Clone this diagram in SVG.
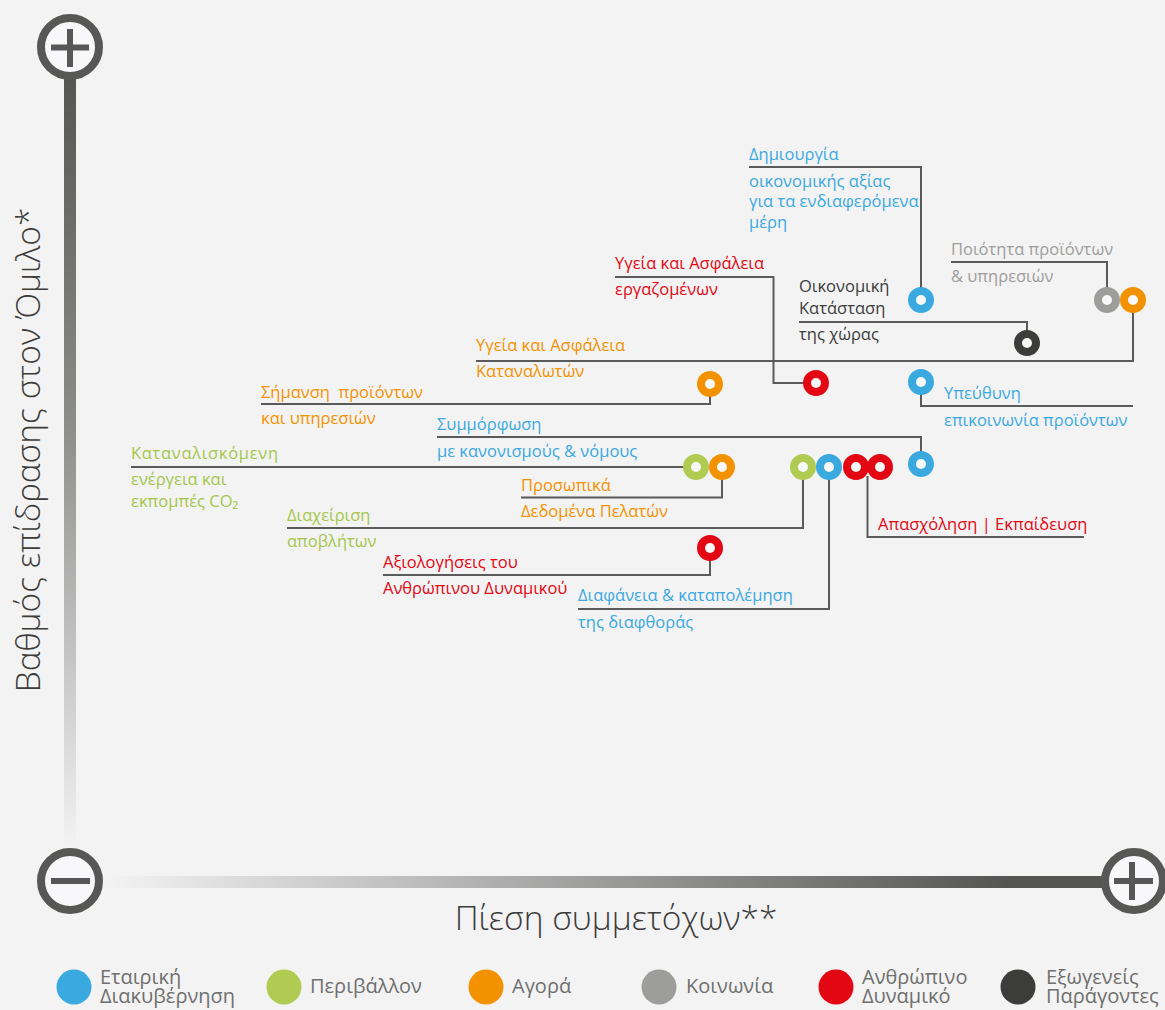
<svg xmlns="http://www.w3.org/2000/svg" width="1165" height="1010" viewBox="0 0 1165 1010">
<defs>
<linearGradient id="gv" x1="0" y1="0" x2="0" y2="1">
<stop offset="0" stop-color="#555554"/>
<stop offset="0.45" stop-color="#8c8c8b"/>
<stop offset="1" stop-color="#f3f3f3"/>
</linearGradient>
<linearGradient id="gh" x1="0" y1="0" x2="1" y2="0">
<stop offset="0" stop-color="#f3f3f3"/>
<stop offset="0.9" stop-color="#555554"/>
<stop offset="1" stop-color="#555554"/>
</linearGradient>
<style>
.t{font-family:"Open Sans","Noto Sans","DejaVu Sans",sans-serif;font-size:16.5px}
.b{fill:#3aa9e0}.g{fill:#a6c64c}.o{fill:#f39200}.r{fill:#e30613}.gr{fill:#9d9d9c}.d{fill:#3c3c3b}
.m{fill:#f8f8f8;stroke-width:8}
.mb{stroke:#3aa9e0}.mg{stroke:#b0cb52}.mo{stroke:#f39200}.mr{stroke:#e30613}.mgr{stroke:#9d9d9c}.md{stroke:#3c3c3b}
.c{fill:none;stroke:#5a5a5a;stroke-width:2}
.ax{fill:#f8f8fa;stroke:#575756;stroke-width:8}
.sg{fill:#575756}
.lg{font-family:"Open Sans","Noto Sans","DejaVu Sans",sans-serif;font-size:20px;fill:#6f6f6e}
.al{font-family:"Open Sans","Noto Sans","DejaVu Sans",sans-serif;font-size:33.5px;font-weight:300;fill:#3c3c3b}
</style>
</defs>
<rect width="1165" height="1010" fill="#f3f3f3"/>

<g id="axes">
<rect x="64" y="76" width="12" height="772" fill="url(#gv)"/>
<rect x="106" y="876" width="1000" height="12" fill="url(#gh)"/>
<circle class="ax" cx="70" cy="47" r="29"/>
<rect class="sg" x="51" y="44.5" width="38" height="6"/>
<rect class="sg" x="67" y="29" width="6" height="38"/>
<circle class="ax" cx="70" cy="881" r="29"/>
<rect class="sg" x="51" y="878" width="39" height="6"/>
<circle class="ax" cx="1134" cy="881" r="29"/>
<rect class="sg" x="1114" y="878" width="39" height="6"/>
<rect class="sg" x="1129" y="862" width="6" height="38"/>
<text class="al" x="616" y="930" text-anchor="middle">Πίεση συμμετόχων**</text>
<text class="al" transform="translate(40,450) rotate(-90)" text-anchor="middle">Βαθμός επίδρασης στον Όμιλο*</text>
</g>

<g id="connectors">
<path class="c" d="M749,167 H921 V300"/>
<path class="c" d="M951,262 H1107 V300"/>
<path class="c" d="M476,361 H1133 V300"/>
<path class="c" d="M799,322 H1027 V343"/>
<path class="c" d="M615,277 H773.5 V383 H816"/>
<path class="c" d="M261,404 H710 V384"/>
<path class="c" d="M921,382 V406 H1133"/>
<path class="c" d="M437,437 H921 V464"/>
<path class="c" d="M131,467 H696"/>
<path class="c" d="M521,497.5 H722 V467"/>
<path class="c" d="M287,528 H803 V467"/>
<path class="c" d="M578,609 H829 V467"/>
<path class="c" d="M867.5,476 V537 H1084"/>
<path class="c" d="M383,575 H710 V548"/>
</g>

<g id="n-dimiourgia">
<circle class="m mb" cx="921" cy="300" r="9"/>
<text class="t b" x="749" y="160">Δημιουργία</text>
<text class="t b" x="749" y="187">οικονομικής αξίας</text>
<text class="t b" x="749" y="207">για τα ενδιαφερόμενα</text>
<text class="t b" x="749" y="228">μέρη</text>
</g>
<g id="n-poiotita">
<circle class="m mgr" cx="1107" cy="300" r="9"/>
<text class="t gr" x="951" y="255">Ποιότητα προϊόντων</text>
<text class="t gr" x="951" y="282">&amp; υπηρεσιών</text>
</g>
<g id="n-ygeia-katanaloton">
<circle class="m mo" cx="1133" cy="300" r="9"/>
<text class="t o" x="476" y="351">Υγεία και Ασφάλεια</text>
<text class="t o" x="476" y="377">Καταναλωτών</text>
</g>
<g id="n-oikonomiki">
<circle class="m md" cx="1027" cy="343" r="9"/>
<text class="t d" x="799" y="292">Οικονομική</text>
<text class="t d" x="799" y="314">Κατάσταση</text>
<text class="t d" x="799" y="340">της χώρας</text>
</g>
<g id="n-ygeia-ergazomenon">
<circle class="m mr" cx="816" cy="383" r="9"/>
<text class="t r" x="615" y="269">Υγεία και Ασφάλεια</text>
<text class="t r" x="615" y="295">εργαζομένων</text>
</g>
<g id="n-simansi">
<circle class="m mo" cx="710" cy="384" r="9"/>
<text class="t o" x="261" y="398" style="white-space:pre">Σήμανση  προϊόντων</text>
<text class="t o" x="261" y="424">και υπηρεσιών</text>
</g>
<g id="n-ypeuthyni">
<circle class="m mb" cx="921" cy="382" r="9"/>
<text class="t b" x="944" y="399">Υπεύθυνη</text>
<text class="t b" x="944" y="426">επικοινωνία προϊόντων</text>
</g>
<g id="n-symmorfosi">
<circle class="m mb" cx="921" cy="464" r="9"/>
<text class="t b" x="437" y="430">Συμμόρφωση</text>
<text class="t b" x="437" y="457">με κανονισμούς &amp; νόμους</text>
</g>
<g id="n-energeia">
<circle class="m mg" cx="696" cy="467" r="9"/>
<text class="t g" x="131" y="459" textLength="147">Καταναλισκόμενη</text>
<text class="t g" x="131" y="485">ενέργεια και</text>
<text class="t g" x="131" y="507">εκπομπές CO₂</text>
</g>
<g id="n-prosopika">
<circle class="m mo" cx="722" cy="467" r="9"/>
<text class="t o" x="521" y="491">Προσωπικά</text>
<text class="t o" x="521" y="517">Δεδομένα Πελατών</text>
</g>
<g id="n-apovliton">
<circle class="m mg" cx="803" cy="467" r="9"/>
<text class="t g" x="287" y="521">Διαχείριση</text>
<text class="t g" x="287" y="547">αποβλήτων</text>
</g>
<g id="n-diafaneia">
<circle class="m mb" cx="829" cy="467" r="9"/>
<text class="t b" x="578" y="601">Διαφάνεια &amp; καταπολέμηση</text>
<text class="t b" x="578" y="628">της διαφθοράς</text>
</g>
<g id="n-apasxolisi">
<circle class="m mr" cx="856" cy="467" r="9"/>
<circle class="m mr" cx="880" cy="467" r="9"/>
<text class="t r" x="878" y="530">Απασχόληση | Εκπαίδευση</text>
</g>
<g id="n-axiologiseis">
<circle class="m mr" cx="710" cy="548" r="9"/>
<text class="t r" x="383" y="568">Αξιολογήσεις του</text>
<text class="t r" x="383" y="594">Ανθρώπινου Δυναμικού</text>
</g>

<g id="legend">
<circle cx="74" cy="987" r="17.5" fill="#3aa9e0"/>
<text class="lg"><tspan x="100" y="984">Εταιρική</tspan><tspan x="100" y="1003">Διακυβέρνηση</tspan></text>
<circle cx="284" cy="987" r="17.5" fill="#b0cb52"/>
<text class="lg" x="310" y="993">Περιβάλλον</text>
<circle cx="486" cy="987" r="17.5" fill="#f39200"/>
<text class="lg" x="512" y="993">Αγορά</text>
<circle cx="659" cy="987" r="17.5" fill="#9d9d9c"/>
<text class="lg" x="686" y="993">Κοινωνία</text>
<circle cx="836" cy="987" r="17.5" fill="#e30613"/>
<text class="lg"><tspan x="862" y="984">Ανθρώπινο</tspan><tspan x="862" y="1003">Δυναμικό</tspan></text>
<circle cx="1018" cy="987" r="17.5" fill="#3c3c3b"/>
<text class="lg"><tspan x="1046" y="984">Εξωγενείς</tspan><tspan x="1046" y="1003">Παράγοντες</tspan></text>
</g>
</svg>
